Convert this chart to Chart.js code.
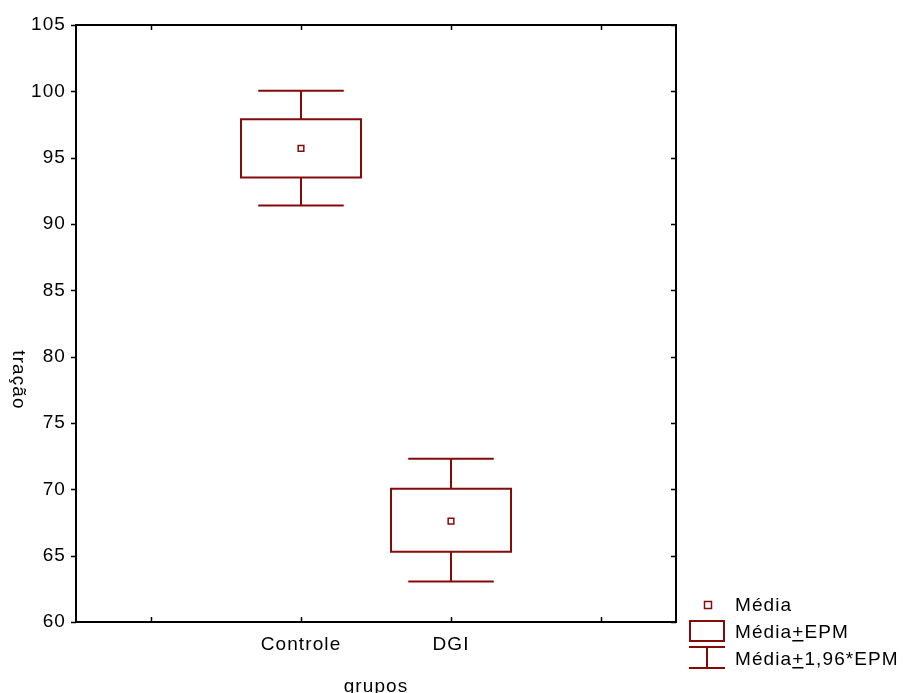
<!DOCTYPE html>
<html>
<head>
<meta charset="utf-8">
<script src="https://cdn.jsdelivr.net/npm/chart.js@4.4.1/dist/chart.umd.min.js"></script>
<style>
  html, body { margin: 0; padding: 0; background: #fff; }
  #wrap { width: 903px; height: 693px; }
</style>
</head>
<body>
<div id="wrap"><canvas id="chart"></canvas></div>
<script>
// groups and their statistics
var groups = ['Controle', 'DGI'];
var groupPos = [1, 2];
var means = [95.7, 67.6];
var boxLow = [93.5, 65.3];      // média - EPM
var boxHigh = [97.9, 70.05];    // média + EPM
var whiskLow = [91.4, 63.05];   // média - 1,96*EPM
var whiskHigh = [100.05, 72.3]; // média + 1,96*EPM
var xTicks = [0, 1, 2, 3];
var yTicks = [60, 65, 70, 75, 80, 85, 90, 95, 100, 105];

var red = '#850a0a';
var font = '"Liberation Sans", Arial, sans-serif';
var spacing = '1.1px';

var boxPlugin = {
    id: 'boxPlugin',
    beforeUpdate: function (chart) { chart.ctx.letterSpacing = spacing; },
    beforeLayout: function (chart) { chart.ctx.letterSpacing = spacing; },
    beforeDraw: function (chart) { chart.ctx.letterSpacing = spacing; },
    beforeDatasetsDraw: function (chart) {
        var ctx = chart.ctx;
        var x = chart.scales.x, y = chart.scales.y;
        ctx.save();
        ctx.strokeStyle = red;
        ctx.lineWidth = 2;
        for (var i = 0; i < groups.length; i++) {
            var cx = x.getPixelForValue(groupPos[i]);
            var bw = x.getPixelForValue(groupPos[i] + 0.4) - cx;
            var cw = x.getPixelForValue(groupPos[i] + 0.285) - cx;
            var yb0 = y.getPixelForValue(boxLow[i]), yb1 = y.getPixelForValue(boxHigh[i]);
            var yw0 = y.getPixelForValue(whiskLow[i]), yw1 = y.getPixelForValue(whiskHigh[i]);
            ctx.beginPath();
            ctx.rect(cx - bw, yb1, bw * 2, yb0 - yb1);
            ctx.moveTo(cx, yb1); ctx.lineTo(cx, yw1);
            ctx.moveTo(cx - cw, yw1); ctx.lineTo(cx + cw, yw1);
            ctx.moveTo(cx, yb0); ctx.lineTo(cx, yw0);
            ctx.moveTo(cx - cw, yw0); ctx.lineTo(cx + cw, yw0);
            ctx.stroke();
        }
        ctx.restore();
    },
    afterDraw: function (chart) {
        var ctx = chart.ctx;
        var a = chart.chartArea;
        var x = chart.scales.x, y = chart.scales.y;
        ctx.save();
        ctx.letterSpacing = spacing;
        // frame
        ctx.strokeStyle = '#000';
        ctx.lineWidth = 2;
        ctx.strokeRect(a.left, a.top, a.right - a.left, a.bottom - a.top);
        // inward ticks on top, bottom and right, outward on the left
        ctx.lineWidth = 1.5;
        ctx.beginPath();
        xTicks.forEach(function (v) {
            var px = Math.round(x.getPixelForValue(v)) + 0.5;
            ctx.moveTo(px, a.top); ctx.lineTo(px, a.top + 5);
            ctx.moveTo(px, a.bottom); ctx.lineTo(px, a.bottom - 5);
        });
        yTicks.forEach(function (v) {
            var py = Math.round(y.getPixelForValue(v)) + 0.5;
            ctx.moveTo(a.right, py); ctx.lineTo(a.right - 5, py);
            ctx.moveTo(a.left, py); ctx.lineTo(a.left - 5, py);
        });
        ctx.stroke();

        // axis titles
        ctx.fillStyle = '#000';
        ctx.font = '19px ' + font;
        ctx.textAlign = 'center';
        ctx.textBaseline = 'alphabetic';
        ctx.fillText('grupos', (a.left + a.right) / 2, 692);
        ctx.textBaseline = 'middle';
        ctx.translate(18, 380);
        ctx.rotate(Math.PI / 2);
        ctx.fillText('tração', 0, 0);
        ctx.restore();

        // legend
        ctx.save();
        ctx.letterSpacing = spacing;
        ctx.strokeStyle = red;
        ctx.fillStyle = '#fff';
        ctx.fillRect(704, 601, 8, 8);
        ctx.lineWidth = 1.5;
        ctx.strokeRect(704.5, 601.5, 7, 7);
        ctx.lineWidth = 2;
        ctx.strokeRect(690, 621, 34, 20);
        ctx.beginPath();
        ctx.moveTo(689, 647); ctx.lineTo(725, 647);
        ctx.moveTo(707, 647); ctx.lineTo(707, 668);
        ctx.moveTo(689, 668); ctx.lineTo(725, 668);
        ctx.stroke();

        ctx.fillStyle = '#000';
        ctx.font = '19px ' + font;
        ctx.textAlign = 'left';
        ctx.textBaseline = 'alphabetic';
        var tx = 735;
        ctx.fillText('Média', tx, 611);
        var rows = [['Média', '+', 'EPM', 638], ['Média', '+', '1,96*EPM', 665]];
        rows.forEach(function (r) {
            var w1 = ctx.measureText(r[0]).width;
            var w2 = ctx.measureText(r[1]).width;
            ctx.fillText(r[0], tx, r[3]);
            ctx.fillText(r[1], tx + w1, r[3]);
            ctx.fillText(r[2], tx + w1 + w2, r[3]);
            ctx.fillRect(tx + w1, r[3] + 2, w2 - 1, 1.5);
        });
        ctx.restore();
    }
};

var ctx = document.getElementById('chart').getContext('2d');
var chart = new Chart(ctx, {
    type: 'scatter',
    data: {
        datasets: [{
            label: 'Média',
            data: groups.map(function (g, i) { return { x: groupPos[i], y: means[i] }; }),
            pointStyle: 'rect',
            pointRadius: 4,
            pointBackgroundColor: '#fff',
            pointBorderColor: red,
            pointBorderWidth: 1.5
        }]
    },
    options: {
        responsive: true,
        maintainAspectRatio: false,
        animation: false,
        layout: { padding: { top: 25, right: 227, left: 0, bottom: 0 } },
        plugins: {
            legend: { display: false },
            tooltip: { enabled: false }
        },
        scales: {
            x: {
                type: 'linear',
                min: -0.5,
                max: 3.5,
                afterBuildTicks: function (s) {
                    s.ticks = xTicks.map(function (v) { return { value: v }; });
                },
                afterFit: function (s) { s.height = 71; },
                grid: { display: false, drawTicks: false },
                border: { display: false },
                ticks: {
                    padding: 11,
                    color: '#000',
                    font: { family: font, size: 19 },
                    callback: function (v) {
                        var i = groupPos.indexOf(v);
                        return i >= 0 ? groups[i] : '';
                    }
                }
            },
            y: {
                min: 60,
                max: 105,
                afterBuildTicks: function (s) {
                    s.ticks = yTicks.map(function (v) { return { value: v }; });
                },
                afterFit: function (s) { s.width = 76; },
                grid: { display: false, drawTicks: false },
                border: { display: false },
                ticks: {
                    padding: 10,
                    color: '#000',
                    font: { family: font, size: 19 }
                }
            }
        }
    },
    plugins: [boxPlugin]
});
</script>
</body>
</html>
